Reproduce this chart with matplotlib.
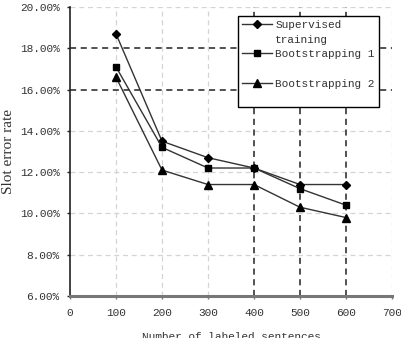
import matplotlib
matplotlib.use("Agg")
import matplotlib.pyplot as plt
from matplotlib.lines import Line2D

# data
sizes = [100, 200, 300, 400, 500, 600]
supervised = [18.7, 13.5, 12.7, 12.2, 11.4, 11.4]
boot1 = [17.1, 13.2, 12.2, 12.2, 11.2, 10.4]
boot2 = [16.6, 12.1, 11.4, 11.4, 10.3, 9.8]
xticks = [0, 100, 200, 300, 400, 500, 600, 700]
yticks = [6, 8, 10, 12, 14, 16, 18, 20]
dark_h = [16, 18]
dark_v = [400, 500, 600]

mono = "Liberation Mono"
txt_col = "#333333"

fig = plt.figure(figsize=(4.01, 3.38), dpi=100)
ax = fig.add_axes([70 / 401, 1 - 296 / 338, 322 / 401, 289 / 338])

# light grid
for y in yticks[1:]:
    if y not in dark_h:
        ax.axhline(y, color="#d4d4d4", lw=0.9, ls=(0, (4, 3)), zorder=1)
for x in xticks[1:]:
    if x not in dark_v:
        ax.axvline(x, color="#d4d4d4", lw=0.9, ls=(0, (4, 3)), zorder=1)
# emphasised grid
for y in dark_h:
    ax.axhline(y, color="#222222", lw=1.1, ls=(0, (4, 3)), zorder=1)
for x in dark_v:
    ax.axvline(x, color="#222222", lw=1.1, ls=(0, (4, 3)), zorder=1)

ax.plot(sizes, supervised, color="#333333", lw=1.0, marker="D", ms=4.5,
        mfc="black", mec="black", zorder=3)
ax.plot(sizes, boot1, color="#333333", lw=1.0, marker="s", ms=4.8,
        mfc="black", mec="black", zorder=3)
ax.plot(sizes, boot2, color="#333333", lw=1.0, marker="^", ms=5.5,
        mfc="black", mec="black", zorder=3)

ax.set_xlim(0, 700)
ax.set_ylim(6, 20)
ax.set_xticks(xticks)
ax.set_yticks(yticks)
ax.set_yticklabels(["%.2f%%" % v for v in yticks])

for s in ["top", "right"]:
    ax.spines[s].set_visible(False)
ax.spines["left"].set_color("#222222")
ax.spines["left"].set_linewidth(1.2)
ax.spines["bottom"].set_color("#777777")
ax.spines["bottom"].set_linewidth(2.2)

ax.tick_params(axis="x", length=2.5, width=1, color="#777777", pad=6,
               labelsize=8, labelcolor=txt_col)
ax.tick_params(axis="y", length=2.5, width=1, color="#222222", pad=5,
               labelsize=8, labelcolor=txt_col)
for lab in ax.get_xticklabels() + ax.get_yticklabels():
    lab.set_family(mono)

ax.set_ylabel("Slot error rate", family="Liberation Serif", fontsize=11,
              color="#333333")
ax.yaxis.set_label_coords(-0.17, 0.5)
ax.set_xlabel("Number of labeled sentences", family=mono, fontsize=8,
              color=txt_col)
ax.xaxis.set_label_coords(0.5, -0.125)

handles = [
    Line2D([], [], color="#333333", lw=1, marker="D", ms=4.5, mfc="black", mec="black"),
    Line2D([], [], ls="none"),
    Line2D([], [], color="#333333", lw=1, marker="s", ms=4.8, mfc="black", mec="black"),
    Line2D([], [], ls="none"),
    Line2D([], [], color="#333333", lw=1, marker="^", ms=5.5, mfc="black", mec="black"),
    Line2D([], [], ls="none"),
]
labels = ["Supervised", "training", "Bootstrapping 1", " ", "Bootstrapping 2", " "]
leg = ax.legend(handles, labels, loc="upper left", bbox_to_anchor=(0.522, 0.969),
                borderaxespad=0, prop={"family": mono, "size": 8},
                handlelength=2.7, handletextpad=0.3, labelspacing=0.42,
                borderpad=0.35, fancybox=False, framealpha=1,
                edgecolor="black")
leg.get_frame().set_linewidth(1.0)
for t in leg.get_texts():
    t.set_color(txt_col)
leg.set_zorder(5)

fig.savefig("out.png", dpi=100)
